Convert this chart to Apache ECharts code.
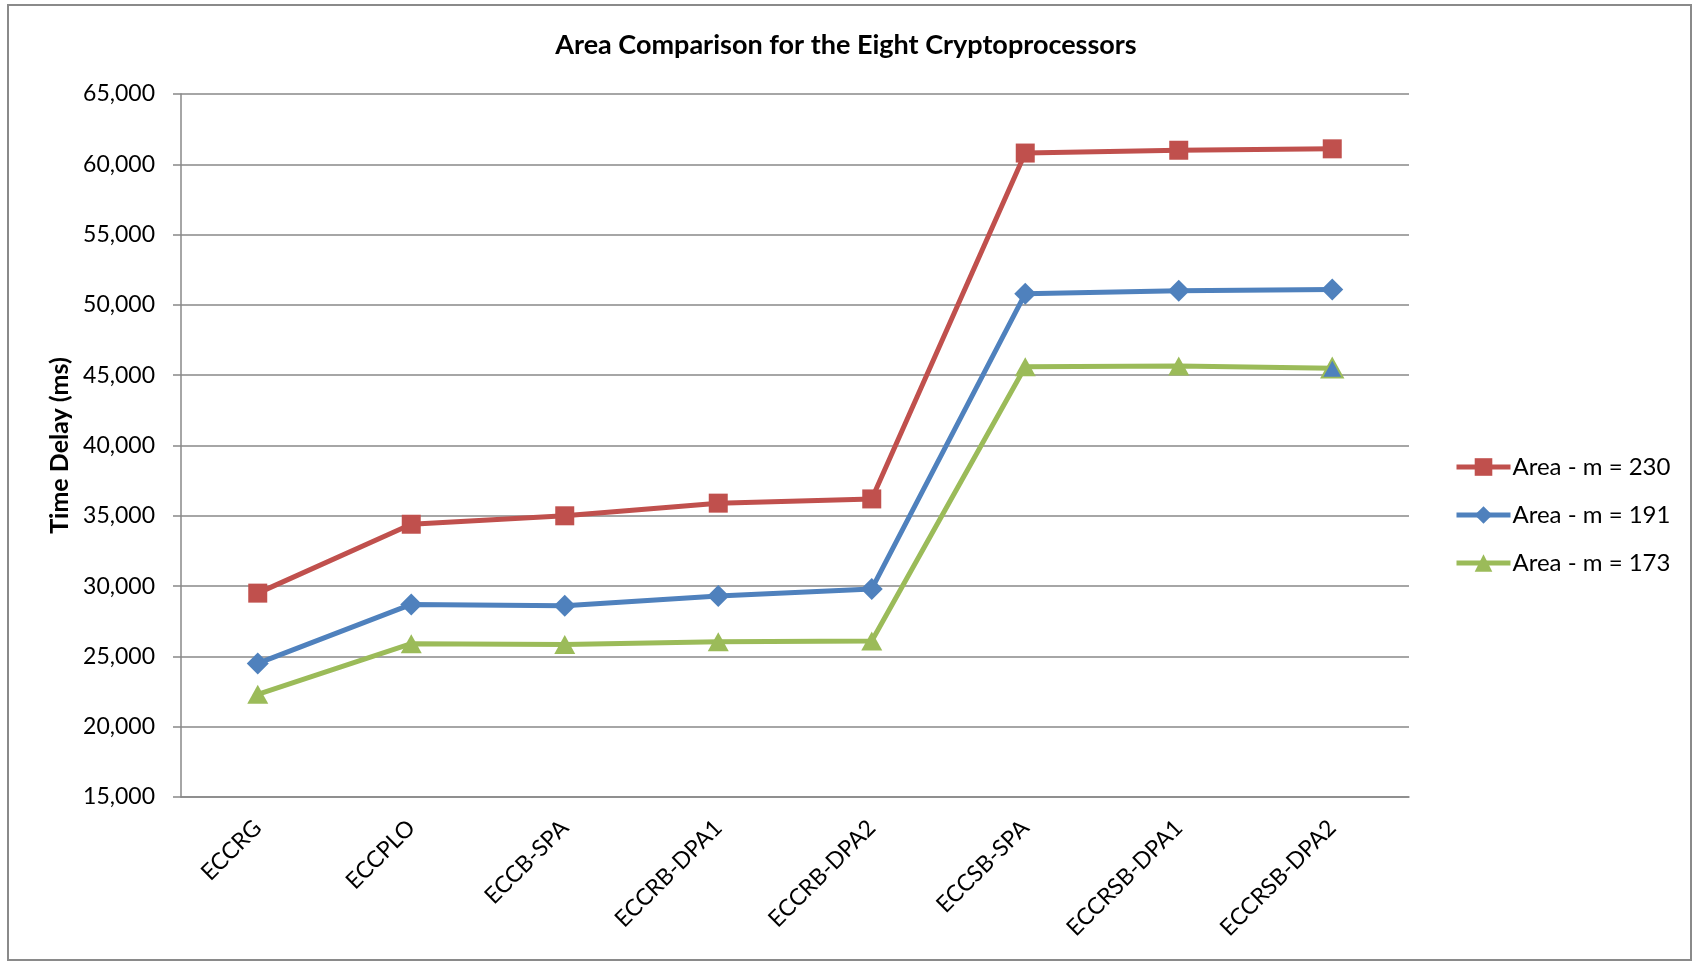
<!DOCTYPE html>
<html>
<head>
<meta charset="utf-8">
<title>Area Comparison for the Eight Cryptoprocessors</title>
<script src="https://cdn.jsdelivr.net/npm/echarts@6/dist/echarts.min.js"></script>
<style>
  html, body { margin: 0; padding: 0; background: #ffffff; }
  #chart { width: 1692px; height: 961px; }
</style>
</head>
<body>
<div id="chart"></div>
<script>
// Processor designs along the x axis
const categories = ['ECCRG', 'ECCPLO', 'ECCB-SPA', 'ECCRB-DPA1', 'ECCRB-DPA2', 'ECCSB-SPA', 'ECCRSB-DPA1', 'ECCRSB-DPA2'];

// Area values for each field size
const area230 = [29500, 34400, 35000, 35900, 36200, 60800, 61000, 61100];
const area191 = [24500, 28700, 28600, 29300, 29800, 50800, 51000, 51100];
const area173 = [22300, 25900, 25850, 26050, 26100, 45600, 45650, 45500];

const seriesNames = ['Area - m = 230', 'Area - m = 191', 'Area - m = 173'];

// Value axis range
const yMin = 15000;
const yMax = 65000;
const yStep = 5000;

const RED = '#C0504D';
const BLUE = '#4F81BD';
const GREEN = '#9BBB59';
const GRID = '#888888';
const FONT = 'Lato, "Open Sans", sans-serif';

const chart = echarts.init(document.getElementById('chart'), null, { renderer: 'canvas' });

// the final m = 173 point is drawn with a blue fill and green outline
const greenData = area173.map((v, i) => i === area173.length - 1
  ? { value: v, itemStyle: { color: BLUE, borderColor: GREEN, borderWidth: 2 } }
  : v);

const fmt = v => v.toLocaleString('en-US');

chart.setOption({
  animation: false,
  backgroundColor: '#ffffff',
  textStyle: { fontFamily: FONT, color: '#000' },
  graphic: [{
    type: 'rect',
    shape: { x: 8, y: 5, width: 1683, height: 955 },
    style: { fill: 'none', stroke: '#8a8a8a', lineWidth: 2 },
    silent: true
  }],
  title: {
    text: 'Area Comparison for the Eight Cryptoprocessors',
    left: 'center',
    top: 27,
    textStyle: { fontFamily: FONT, fontSize: 27, fontWeight: 'bold', color: '#000' }
  },
  legend: {
    orient: 'vertical',
    left: 1449,
    top: 450,
    itemWidth: 54,
    itemHeight: 22,
    itemGap: 24,
    lineStyle: { width: 5 },
    textStyle: { fontFamily: FONT, fontSize: 24, color: '#000', padding: [0, 0, 0, -3] },
    data: seriesNames
  },
  grid: { left: 181, right: 283, top: 94, bottom: 164, containLabel: false },
  xAxis: {
    type: 'category',
    data: categories,
    boundaryGap: true,
    axisLine: { show: true, lineStyle: { color: GRID, width: 1.5 } },
    axisTick: { show: false },
    axisLabel: { rotate: 45, margin: 27, fontFamily: FONT, fontSize: 23, color: '#000', interval: 0 }
  },
  yAxis: {
    type: 'value',
    min: yMin,
    max: yMax,
    interval: yStep,
    name: 'Time Delay (ms)',
    nameLocation: 'middle',
    nameGap: 108,
    nameTextStyle: { fontFamily: FONT, fontSize: 25, fontWeight: 'bold', color: '#000' },
    axisLine: { show: true, lineStyle: { color: GRID, width: 1.5 } },
    axisTick: { show: true, length: 8, lineStyle: { color: GRID, width: 1.5 } },
    axisLabel: { margin: 26, fontFamily: FONT, fontSize: 23, color: '#000', formatter: fmt },
    splitLine: { show: true, lineStyle: { color: GRID, width: 1.5 } }
  },
  series: [
    {
      name: seriesNames[0],
      type: 'line',
      data: area230,
      symbol: 'rect',
      symbolSize: 19,
      lineStyle: { color: RED, width: 5 },
      itemStyle: { color: RED },
      z: 3
    },
    {
      name: seriesNames[1],
      type: 'line',
      data: area191,
      symbol: 'diamond',
      symbolSize: [22, 22],
      lineStyle: { color: BLUE, width: 5 },
      itemStyle: { color: BLUE },
      z: 4
    },
    {
      name: seriesNames[2],
      type: 'line',
      data: greenData,
      symbol: 'triangle',
      symbolSize: [21, 19],
      lineStyle: { color: GREEN, width: 5 },
      itemStyle: { color: GREEN },
      z: 5
    }
  ]
});
</script>
</body>
</html>
